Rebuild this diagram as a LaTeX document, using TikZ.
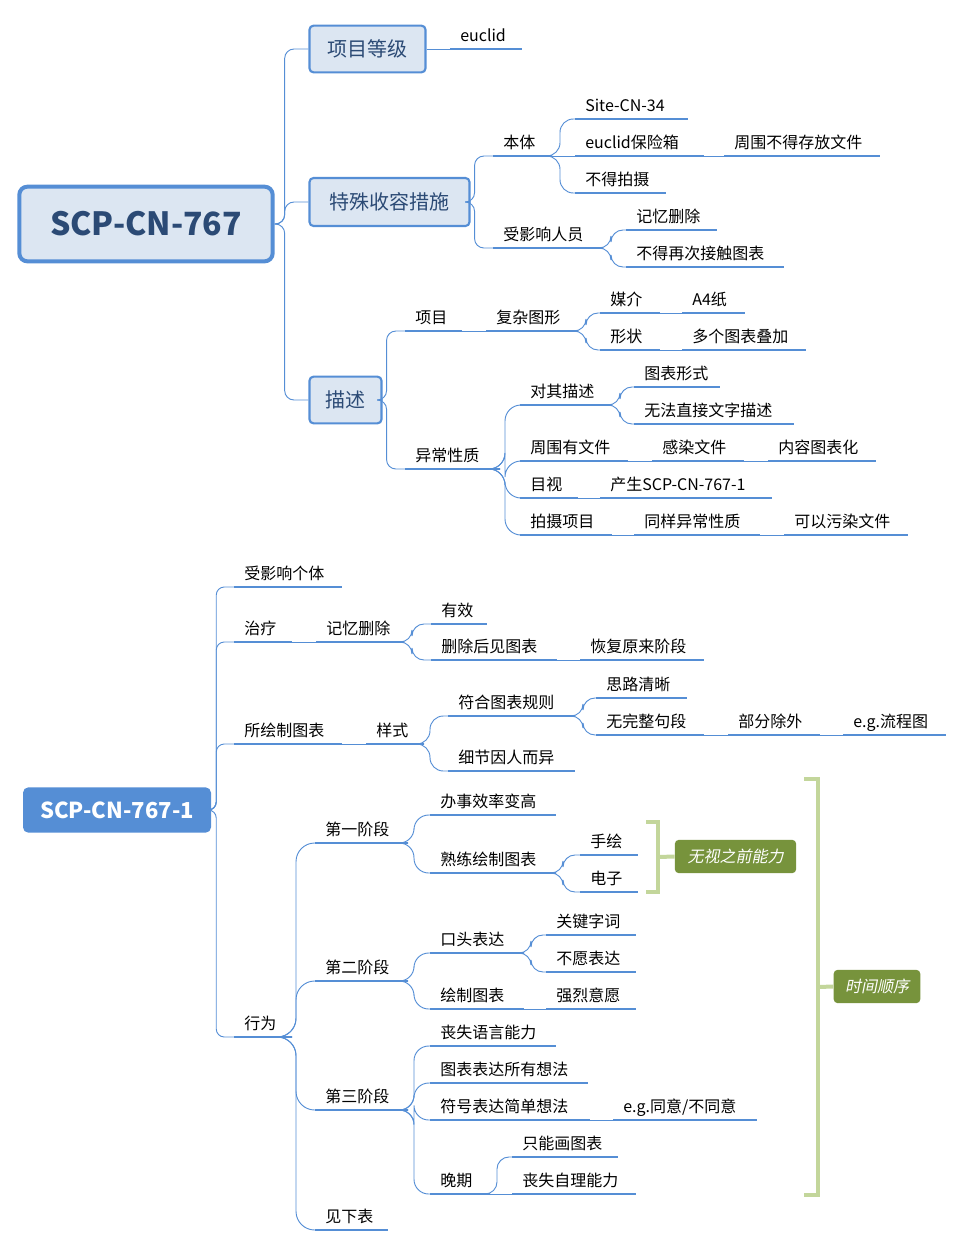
\documentclass[tikz,border=0pt]{standalone}
\usepackage{fontspec}
\setmainfont{Noto Sans CJK SC}
\newfontfamily\cjkit[FakeSlant=0.2]{Noto Sans CJK SC}
\definecolor{bl}{HTML}{558ED5}
\definecolor{lb}{HTML}{DCE6F2}
\definecolor{db}{HTML}{2B4A75}
\definecolor{gr}{HTML}{C3D69B}
\definecolor{dg}{HTML}{77933C}
\newcommand\lf[5]{\draw[ul] (#2,#4) coordinate (#1L) -- (#3,#4) coordinate (#1R);
  \node[lt] (#1) at (#2+10,#4-8) {#5};}
\newcommand\cn[4][]{\draw[conn,#1] (#2) -- ++(#3,0) |- (#4);}
\begin{document}
\begin{tikzpicture}[x=0.75pt,y=-0.75pt,
  ul/.style={bl,line width=2.2pt},
  lt/.style={anchor=base west,inner sep=0pt,font=\fontsize{12}{14}\selectfont},
  conn/.style={bl,line width=0.7pt,rounded corners=7pt},
  box/.style={draw=bl,fill=lb,line width=1.6pt,rounded corners=3pt,text=db,font=\fontsize{15}{18}\selectfont,inner sep=0pt},
  glab/.style={fill=dg,text=white,rounded corners=3pt,font=\cjkit\fontsize{12}{14}\selectfont,inner sep=0pt},
  brk/.style={gr,line width=3pt}]
\useasboundingbox (0,0) rectangle (964,1247);
% ---------- top part
\node[draw=bl,fill=lb,line width=3pt,rounded corners=6pt,text=db,font=\bfseries\fontsize{24}{28}\selectfont,minimum width=254\pgflinewidth,inner sep=0pt] (root) at (146,224) [minimum width=190pt,minimum height=56pt] {SCP-CN-767};
\node[box,minimum width=87pt,minimum height=35pt] (b1) at (367.5,49) {项目等级};
\node[box,minimum width=120pt,minimum height=36pt] (b2) at (389.5,202) {特殊收容措施};
\node[box,minimum width=54pt,minimum height=35pt] (b3) at (345.5,400) {描述};
\cn{root.east}{10}{b1.west}
\cn{root.east}{10}{b2.west}
\cn{root.east}{10}{b3.west}
\lf{eu}{450}{522}{49}{euclid}
\draw[conn] (b1.east) -- (euL);
\lf{bt}{493}{552}{156}{本体}
\lf{yx}{493}{603}{248}{受影响人员}
\cn{b2.east}{4}{btL}
\cn{b2.east}{4}{yxL}
\lf{site}{575}{688}{119}{Site-CN-34}
\lf{bx}{575}{704}{156}{euclid保险箱}
\lf{bd}{575}{666}{193}{不得拍摄}
\cn[rounded corners=10pt]{btR}{8}{siteL}
\draw[conn] (btR) -- (bxL);
\cn[rounded corners=10pt]{btR}{8}{bdL}
\lf{zw}{724}{880}{156}{周围不得存放文件}
\draw[conn] (bxR) -- (zwL);
\lf{jy}{626}{717}{230}{记忆删除}
\lf{bz}{626}{784}{267}{不得再次接触图表}
\cn[rounded corners=9pt]{yxR}{8}{jyL}
\cn[rounded corners=9pt]{yxR}{8}{bzL}
\lf{xm}{405}{462}{331}{项目}
\lf{yc}{405}{500}{469}{异常性质}
\cn{b3.east}{4}{xmL}
\cn{b3.east}{4}{ycL}
\lf{fz}{486}{578}{331}{复杂图形}
\draw[conn] (xmR) -- (fzL);
\lf{mj}{600}{660}{313}{媒介}
\lf{xz}{600}{660}{350}{形状}
\cn[rounded corners=9pt]{fzR}{8}{mjL}
\cn[rounded corners=9pt]{fzR}{8}{xzL}
\lf{a4}{682}{745}{313}{A4纸}
\draw[conn] (mjR) -- (a4L);
\lf{dg}{682}{806}{350}{多个图表叠加}
\draw[conn] (xzR) -- (dgL);
\lf{dq}{520}{612}{405}{对其描述}
\lf{zy}{520}{628}{461}{周围有文件}
\lf{ms}{520}{578}{498}{目视}
\lf{ps}{520}{612}{535}{拍摄项目}
\cn[rounded corners=12pt]{ycR}{5}{dqL}
\cn[rounded corners=12pt]{ycR}{5}{zyL}
\cn[rounded corners=12pt]{ycR}{5}{msL}
\cn[rounded corners=12pt]{ycR}{5}{psL}
\lf{tb}{634}{720}{387}{图表形式}
\lf{wf}{634}{794}{424}{无法直接文字描述}
\cn[rounded corners=9pt]{dqR}{8}{tbL}
\cn[rounded corners=9pt]{dqR}{8}{wfL}
\lf{gr1}{652}{744}{461}{感染文件}
\draw[conn] (zyR) -- (gr1L);
\lf{nr}{768}{876}{461}{内容图表化}
\draw[conn] (gr1R) -- (nrL);
\lf{cs}{600}{772}{498}{产生SCP-CN-767-1}
\draw[conn] (msR) -- (csL);
\lf{ty}{634}{760}{535}{同样异常性质}
\draw[conn] (psR) -- (tyL);
\lf{kw}{784}{908}{535}{可以污染文件}
\draw[conn] (tyR) -- (kwL);
% ---------- bottom part
\node[fill=bl,text=white,rounded corners=4pt,font=\bfseries\fontsize{16.5}{20}\selectfont,minimum width=141pt,minimum height=34pt,inner sep=0pt] (r2) at (117,810) {SCP-CN-767-1};
\lf{st}{234}{342}{587}{受影响个体}
\lf{zl}{234}{292}{642}{治疗}
\lf{sh}{234}{342}{744}{所绘制图表}
\lf{xw}{234}{292}{1037}{行为}
\cn[rounded corners=6pt]{r2.east}{5}{stL}
\cn[rounded corners=6pt]{r2.east}{5}{zlL}
\cn[rounded corners=6pt]{r2.east}{5}{shL}
\cn[rounded corners=6pt]{r2.east}{5}{xwL}
\lf{jy2}{316}{404}{642}{记忆删除}
\draw[conn] (zlR) -- (jy2L);
\lf{yx2}{431}{487}{624}{有效}
\lf{sc}{431}{557}{660}{删除后见图表}
\cn[rounded corners=9pt]{jy2R}{8}{yx2L}
\cn[rounded corners=9pt]{jy2R}{8}{scL}
\lf{hf}{580}{704}{660}{恢复原来阶段}
\draw[conn] (scR) -- (hfL);
\lf{ys}{366}{424}{744}{样式}
\draw[conn] (shR) -- (ysL);
\lf{fh}{448}{575}{716}{符合图表规则}
\lf{xj}{448}{575}{771}{细节因人而异}
\cn[rounded corners=10pt]{ysR}{6}{fhL}
\cn[rounded corners=10pt]{ysR}{6}{xjL}
\lf{sl}{596}{687}{698}{思路清晰}
\lf{wz}{596}{704}{735}{无完整句段}
\cn[rounded corners=9pt]{fhR}{8}{slL}
\cn[rounded corners=9pt]{fhR}{8}{wzL}
\lf{bf}{728}{820}{735}{部分除外}
\draw[conn] (wzR) -- (bfL);
\lf{eg}{843}{946}{735}{e.g.流程图}
\draw[conn] (bfR) -- (egL);
\lf{j1}{315}{408}{843}{第一阶段}
\lf{j2}{315}{408}{981}{第二阶段}
\lf{j3}{315}{408}{1110}{第三阶段}
\lf{jx}{315}{388}{1230}{见下表}
\cn[rounded corners=14pt]{xwR}{4}{j1L}
\cn[rounded corners=14pt]{xwR}{4}{j2L}
\cn[rounded corners=14pt]{xwR}{4}{j3L}
\cn[rounded corners=14pt]{xwR}{4}{jxL}
\lf{bs}{430}{556}{815}{办事效率变高}
\lf{sl2}{430}{556}{873}{熟练绘制图表}
\cn[rounded corners=11pt]{j1R}{6}{bsL}
\cn[rounded corners=11pt]{j1R}{6}{sl2L}
\lf{sh2}{580}{638}{855}{手绘}
\lf{dz}{580}{638}{892}{电子}
\cn[rounded corners=9pt]{sl2R}{7}{sh2L}
\cn[rounded corners=9pt]{sl2R}{7}{dzL}
\lf{kt}{430}{524}{953}{口头表达}
\lf{hz}{430}{524}{1009}{绘制图表}
\cn[rounded corners=11pt]{j2R}{6}{ktL}
\cn[rounded corners=11pt]{j2R}{6}{hzL}
\lf{gj}{546}{636}{935}{关键字词}
\lf{by}{546}{636}{972}{不愿表达}
\cn[rounded corners=9pt]{ktR}{7}{gjL}
\cn[rounded corners=9pt]{ktR}{7}{byL}
\lf{ql}{546}{636}{1009}{强烈意愿}
\draw[conn] (hzR) -- (qlL);
\lf{ss}{430}{556}{1046}{丧失语言能力}
\lf{tb2}{430}{588}{1083}{图表表达所有想法}
\lf{fh2}{430}{590}{1120}{符号表达简单想法}
\lf{wq}{430}{490}{1194}{晚期}
\cn[rounded corners=11pt]{j3R}{6}{ssL}
\cn[rounded corners=11pt]{j3R}{6}{tb2L}
\cn[rounded corners=11pt]{j3R}{6}{fh2L}
\cn[rounded corners=11pt]{j3R}{6}{wqL}
\lf{ty2}{613}{757}{1120}{e.g.同意/不同意}
\draw[conn] (fh2R) -- (ty2L);
\lf{zn}{512}{618}{1157}{只能画图表}
\lf{sz}{512}{636}{1194}{丧失自理能力}
\cn[rounded corners=9pt]{wqR}{7}{znL}
\draw[conn] (wqR) -- (szL);
% brackets
\draw[brk] (646,822) -- (658,822) -- (658,892) -- (646,892);
\coordinate (bk1) at (658,857);
\node[glab,minimum width=91pt,minimum height=25pt] (lab1) at (735.5,856.5) {无视之前能力};
\draw[brk] (bk1) -- (lab1.west);
\draw[brk] (804,779) -- (818,779) -- (818,1195) -- (804,1195);
\coordinate (bk2) at (818,987);
\node[glab,minimum width=65pt,minimum height=25pt] (lab2) at (877,986.5) {时间顺序};
\draw[brk] (bk2) -- (lab2.west);
\end{tikzpicture}
\end{document}
